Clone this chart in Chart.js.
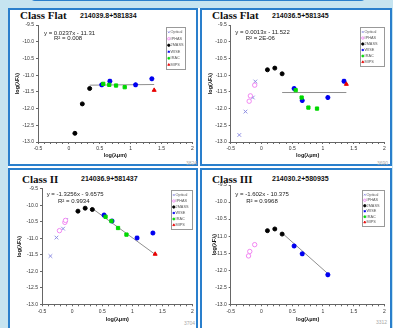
<!DOCTYPE html>
<html>
<head>
<meta charset="utf-8">
<script src="https://cdn.jsdelivr.net/npm/chart.js@4.4.1/dist/chart.umd.min.js"></script>
<style>
body{margin:0;width:393px;height:328px;overflow:hidden;background:#c6e4f0;position:relative;font-family:"Liberation Sans",Arial,sans-serif}
.under{position:absolute;left:8px;top:8px;width:384px;height:330px;background:#fff}
.topbox{position:absolute;left:30px;top:-20px;width:336px;height:21px;box-sizing:border-box;border:2px solid #2a7fcc;border-radius:5px;background:#d6edf6}
.panel{position:absolute;box-sizing:border-box;border:2px solid #2a7fcc;background:#fff}
canvas{position:absolute}
.cls{position:absolute;font:bold 11px/11px "Liberation Serif",serif;color:#111;white-space:nowrap}
.src{position:absolute;font:bold 7px/7px "Liberation Sans",Arial,sans-serif;color:#111;white-space:nowrap}
.wm{position:absolute;font:5px/5px "Liberation Sans",Arial,sans-serif;color:#a8a8a8;text-align:right;width:30px}
</style>
</head>
<body>
<div class="topbox"></div>
<div class="under"></div>
<div class="panel" style="left:8px;top:8px;width:190px;height:158px"></div>
<div class="panel" style="left:200px;top:8px;width:192px;height:158px"></div>
<div class="panel" style="left:8px;top:168px;width:190px;height:170px"></div>
<div class="panel" style="left:200px;top:168px;width:192px;height:170px"></div>

<div class="cls" style="left:20px;top:10px">Class Flat</div>
<div class="src" style="left:80px;top:12.4px">214039.8+581834</div>
<div class="cls" style="left:212px;top:10px">Class Flat</div>
<div class="src" style="left:272px;top:12.4px">214036.5+581345</div>
<div class="cls" style="left:22px;top:174px">Class II</div>
<div class="src" style="left:81px;top:175px">214036.9+581437</div>
<div class="cls" style="left:212px;top:174px">Class III</div>
<div class="src" style="left:272px;top:175px">214030.2+580935</div>

<div class="wm" style="left:167px;top:161px">3824</div>
<div class="wm" style="left:358px;top:161px">3690</div>
<div class="wm" style="left:165px;top:321px">3704</div>
<div class="wm" style="left:357px;top:320px">3312</div>

<script>
// wavelengths (log micron) of the photometric bands
const x2MASS = [0.097, 0.217, 0.336];
const xWISE = [0.531, 0.663, 1.079, 1.342];
const xIRAC = [0.556, 0.653, 0.763, 0.903];
const xMIPS = [1.380];

// 214039.8+581834
const y2MASS_1 = [-12.74, -11.86, -11.40];
const yWISE_1 = [-11.29, -11.18, -11.29, -11.11];
const yIRAC_1 = [-11.26, -11.29, -11.31, -11.36];
const yMIPS_1 = [-11.45];
const trendX_1 = [0.336, 1.380];
const trendY_1 = [-11.30, -11.28];
const eq_1 = ['y = 0.0237x - 11.31', 'R\u00b2 = 0.008'];

// 214036.5+581345
const xOptical_2 = [-0.36, -0.26, -0.14, -0.10];
const yOptical_2 = [-12.79, -12.09, -11.67, -11.19];
const xIPHAS_2 = [-0.20, -0.18, -0.11];
const yIPHAS_2 = [-11.78, -11.62, -11.30];
const y2MASS_2 = [-10.84, -10.79, -10.96];
const yWISE_2 = [-11.40, -11.76, -11.67, -11.18];
const yIRAC_2 = [-11.45, -11.67, -11.97, -12.00];
const yMIPS_2 = [-11.27];
const trendX_2 = [0.336, 1.380];
const trendY_2 = [-11.52, -11.52];
const eq_2 = ['y = 0.0013x - 11.522', 'R\u00b2 = 2E-06'];

// 214036.9+581437
const xOptical_3 = [-0.36, -0.26, -0.15, -0.10];
const yOptical_3 = [-11.54, -10.98, -10.71, -10.45];
const xIPHAS_3 = [-0.21, -0.12, -0.11];
const yIPHAS_3 = [-10.77, -10.52, -10.46];
const y2MASS_3 = [-10.18, -10.09, -10.13];
const yWISE_3 = [-10.30, -10.48, -10.99, -10.84];
const yIRAC_3 = [-10.35, -10.48, -10.69, -10.89];
const yMIPS_3 = [-11.48];
const trendX_3 = [0.336, 1.380];
const trendY_3 = [-10.10, -11.49];
const eq_3 = ['y = -1.3256x - 9.6575', 'R\u00b2 = 0.9934'];

// 214030.2+580935
const xIPHAS_4 = [-0.21, -0.19, -0.11];
const yIPHAS_4 = [-11.58, -11.45, -11.25];
const y2MASS_4 = [-10.84, -10.79, -10.94];
const xWISE_4 = [0.531, 0.663, 1.079];
const yWISE_4 = [-11.29, -11.52, -12.13];
const trendX_4 = [0.336, 1.079];
const trendY_4 = [-10.91, -12.10];
const eq_4 = ['y = -1.602x - 10.375', 'R\u00b2 = 0.9968'];

const bands = ['Optical', 'IPHAS', '2MASS', 'WISE', 'IRAC', 'MIPS'];

const looks = {
  Optical: {pointStyle: 'crossRot', borderColor: '#8585e0', backgroundColor: '#8585e0', pointRadius: 2.6, pointBorderWidth: 0.9},
  IPHAS: {pointStyle: 'circle', borderColor: '#f07af0', backgroundColor: '#ffffff', pointRadius: 2.2, pointBorderWidth: 0.9},
  '2MASS': {pointStyle: 'circle', borderColor: '#000000', backgroundColor: '#000000', pointRadius: 2, pointBorderWidth: 1},
  WISE: {pointStyle: 'star', borderColor: '#0000f0', backgroundColor: '#0000f0', pointRadius: 2.5, pointBorderWidth: 1.5},
  IRAC: {pointStyle: 'rect', borderColor: '#00d800', backgroundColor: '#00d800', pointRadius: 2.3, pointBorderWidth: 1},
  MIPS: {pointStyle: 'triangle', borderColor: '#e80000', backgroundColor: '#e80000', pointRadius: 2.3, pointBorderWidth: 1}
};

function pts(xs, ys) {
  return xs.map((x, i) => ({x: x, y: ys[i]}));
}

// small boxed legend in the upper right of the plot
const boxLegend = {
  id: 'boxLegend',
  afterDraw(chart, args, o) {
    const ctx = chart.ctx, a = chart.chartArea;
    const x0 = Math.round(a.right - o.w - o.dx), y0 = Math.round(a.top + o.dy);
    ctx.save();
    ctx.fillStyle = '#fff';
    ctx.fillRect(x0, y0, o.w, o.h);
    ctx.strokeStyle = '#999';
    ctx.lineWidth = 1;
    ctx.strokeRect(x0 + 0.5, y0 + 0.5, o.w - 1, o.h - 1);
    const items = chart.data.datasets.filter(d => !d.isTrend);
    const step = (o.h - 4) / items.length;
    items.forEach((d, i) => {
      const cy = y0 + 2 + step * (i + 0.5);
      ctx.fillStyle = d.backgroundColor;
      ctx.strokeStyle = d.borderColor;
      ctx.lineWidth = 0.8;
      Chart.helpers.drawPoint(ctx, {pointStyle: d.pointStyle, radius: 1.2, borderWidth: 0.8, rotation: 0}, x0 + 2.8, cy);
      ctx.fillStyle = '#555';
      ctx.font = '3.8px "Liberation Sans", Arial';
      ctx.textBaseline = 'middle';
      ctx.fillText(d.label, x0 + 4.6, cy);
    });
    ctx.restore();
  }
};

// fit equation text
const eqText = {
  id: 'eqText',
  afterDatasetsDraw(chart, args, o) {
    const ctx = chart.ctx, a = chart.chartArea;
    ctx.save();
    ctx.font = '6px "Liberation Sans", Arial';
    ctx.fillStyle = '#222';
    ctx.textBaseline = 'middle';
    o.lines.forEach((t, i) => ctx.fillText(t, a.left + o.pos[i][0], a.top + o.pos[i][1]));
    ctx.restore();
  }
};

function makeChart(p) {
  const cv = document.createElement('canvas');
  cv.width = p.w;
  cv.height = p.h;
  cv.style.left = p.left + 'px';
  cv.style.top = p.top + 'px';
  document.body.appendChild(cv);

  const datasets = bands.map((n, i) => {
    const s = p.series[n] || [[], []];
    // later bands drawn on top
    return Object.assign({label: n, data: pts(s[0], s[1]), showLine: false, order: bands.length - i}, looks[n]);
  });
  datasets.push({
    type: 'line', label: 'trend', isTrend: true, order: 20,
    data: pts(p.trend[0], p.trend[1]),
    borderColor: '#8f8f8f', borderWidth: 1, pointRadius: 0, showLine: true
  });

  new Chart(cv, {
    type: 'scatter',
    data: {datasets: datasets},
    options: {
      responsive: false,
      animation: false,
      devicePixelRatio: 1,
      layout: {padding: {top: p.padTop, right: p.padRight, left: 0, bottom: 0}},
      plugins: {
        legend: {display: false},
        tooltip: {enabled: false},
        boxLegend: p.legend,
        eqText: {lines: p.eq, pos: p.eqPos}
      },
      scales: {
        x: {
          type: 'linear', min: -0.5, max: 2,
          afterFit: s => { s.height = p.xH; },
          grid: {drawOnChartArea: false, tickLength: 2, color: '#666'},
          border: {color: '#666'},
          ticks: {
            stepSize: 0.1, autoSkip: false, maxRotation: 0, padding: 2,
            color: '#333', font: {size: 5, family: '"Liberation Sans", Arial'},
            callback: v => { const r = Math.round(v * 10); return r % 5 === 0 ? String(r / 10) : ''; }
          },
          title: {display: true, text: 'log(\u03bb\u03bcm)', color: '#111',
            font: {size: 5.5, weight: 'bold', family: '"Liberation Sans", Arial'},
            padding: {top: p.xtPad, bottom: p.xtPad}}
        },
        y: {
          type: 'linear', min: -13, max: -9.5,
          afterFit: s => { s.width = p.yW; },
          grid: {drawOnChartArea: false, tickLength: 2, color: '#666'},
          border: {color: '#666'},
          ticks: {
            stepSize: 0.5, padding: 2,
            color: '#333', font: {size: 5, family: '"Liberation Sans", Arial'},
            callback: v => v.toFixed(1)
          },
          title: {display: true, text: 'log(\u03bbF\u03bb)', color: '#111',
            font: {size: 5.5, weight: 'bold', family: '"Liberation Sans", Arial'},
            padding: {top: p.ytPad, bottom: p.ytPad}}
        }
      }
    },
    plugins: [boxLegend, eqText]
  });
}

makeChart({
  left: 10, top: 10, w: 188, h: 156, padTop: 15, padRight: 5, yW: 28, xH: 24, xtPad: 7, ytPad: 4.5,
  series: {'2MASS': [x2MASS, y2MASS_1], WISE: [xWISE, yWISE_1], IRAC: [xIRAC, yIRAC_1], MIPS: [xMIPS, yMIPS_1]},
  trend: [trendX_1, trendY_1],
  eq: eq_1, eqPos: [[6, 8], [16, 13.5]],
  legend: {w: 20, h: 43, dx: 7, dy: 2}
});

makeChart({
  left: 202, top: 10, w: 188, h: 156, padTop: 15, padRight: 2.3, yW: 28.7, xH: 24, xtPad: 7, ytPad: 5.5,
  series: {Optical: [xOptical_2, yOptical_2], IPHAS: [xIPHAS_2, yIPHAS_2], '2MASS': [x2MASS, y2MASS_2],
           WISE: [xWISE, yWISE_2], IRAC: [xIRAC, yIRAC_2], MIPS: [xMIPS, yMIPS_2]},
  trend: [trendX_2, trendY_2],
  eq: eq_2, eqPos: [[4.6, 7], [15, 13]],
  legend: {w: 25, h: 40, dx: 0, dy: 2}
});

makeChart({
  left: 10, top: 170, w: 188, h: 158, padTop: 18.7, padRight: 3, yW: 32, xH: 23.7, xtPad: 5, ytPad: 6.5,
  series: {Optical: [xOptical_3, yOptical_3], IPHAS: [xIPHAS_3, yIPHAS_3], '2MASS': [x2MASS, y2MASS_3],
           WISE: [xWISE, yWISE_3], IRAC: [xIRAC, yIRAC_3], MIPS: [xMIPS, yMIPS_3]},
  trend: [trendX_3, trendY_3],
  eq: eq_3, eqPos: [[4.7, 5.5], [16, 12.5]],
  legend: {w: 22, h: 40, dx: 0, dy: 1.5}
});

makeChart({
  left: 202, top: 170, w: 188, h: 158, padTop: 15, padRight: 2.3, yW: 28.7, xH: 23.7, xtPad: 5, ytPad: 9,
  series: {IPHAS: [xIPHAS_4, yIPHAS_4], '2MASS': [x2MASS, y2MASS_4], WISE: [xWISE_4, yWISE_4]},
  trend: [trendX_4, trendY_4],
  eq: eq_4, eqPos: [[4.6, 9], [15.5, 16]],
  legend: {w: 23, h: 37, dx: 0, dy: 5}
});
</script>
</body>
</html>
